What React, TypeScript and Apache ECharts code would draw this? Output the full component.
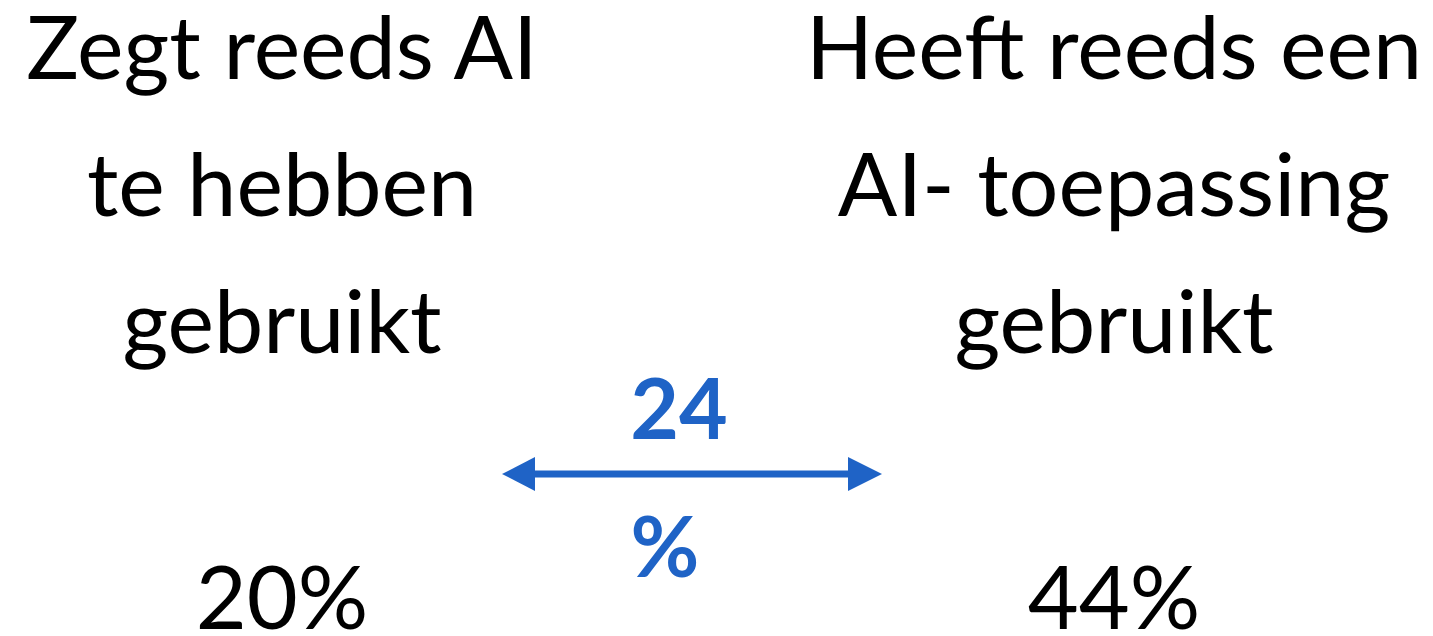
import React, { useEffect, useRef } from "react";
import * as echarts from "echarts";

const categories: string[][] = [
  ["Zegt reeds AI", "te hebben", "gebruikt"],
  ["Heeft reeds een", "AI- toepassing", "gebruikt"],
];
const values: number[] = [20, 44];
const unit = "%";

const BLACK = "#000000";
const BLUE = "#1F63C6";
const FONT = "Lato, 'Open Sans', sans-serif";

export default function App() {
  const ref = useRef<HTMLDivElement>(null);
  useEffect(() => {
    document.body.style.margin = "0";
    if (!ref.current) return;
    const chart = echarts.init(ref.current, undefined, { renderer: "svg" });
    const centers = [282, 1114];
    const fs = 88;
    const bfs = 84;
    const off = 0.4 * fs;
    const boff = 0.4 * bfs;
    const baselines = [80, 217, 354];
    const elements: any[] = [];
    categories.forEach((lines, i) => {
      lines.forEach((ln, j) => {
        elements.push({
          type: "text",
          x: centers[i],
          y: baselines[j] - off,
          style: {
            text: ln,
            fill: BLACK,
            font: `400 ${fs}px ${FONT}`,
            align: "center",
            verticalAlign: "middle",
            lineHeight: 70,
          },
        });
      });
      elements.push({
        type: "text",
        x: centers[i],
        y: 630 - off,
        style: {
          text: `${values[i]}${unit}`,
          fill: BLACK,
          font: `400 ${fs}px ${FONT}`,
          align: "center",
          verticalAlign: "middle",
          lineHeight: 70,
        },
      });
    });
    const diff = values[1] - values[0];
    elements.push({
      type: "text",
      x: 679,
      y: 440 - boff,
      style: { text: `${diff}`, fill: BLUE, font: `700 ${bfs}px ${FONT}`, align: "center", verticalAlign: "middle", lineHeight: 70 },
    });
    elements.push({
      type: "text",
      x: 665,
      y: 578 - boff,
      style: { text: unit, fill: BLUE, font: `700 ${bfs}px ${FONT}`, align: "center", verticalAlign: "middle", lineHeight: 70 },
    });
    elements.push({
      type: "line",
      shape: { x1: 530, y1: 474, x2: 852, y2: 474 },
      style: { stroke: BLUE, lineWidth: 7 },
    });
    elements.push({
      type: "polygon",
      shape: { points: [[502, 474], [535, 457], [535, 491]] },
      style: { fill: BLUE },
    });
    elements.push({
      type: "polygon",
      shape: { points: [[882, 474], [848, 457], [848, 491]] },
      style: { fill: BLUE },
    });
    chart.setOption({
      animation: false,
      backgroundColor: "#ffffff",
      graphic: { elements },
    });
    return () => chart.dispose();
  }, []);
  return <div ref={ref} style={{ width: 1433, height: 636 }} />;
}
